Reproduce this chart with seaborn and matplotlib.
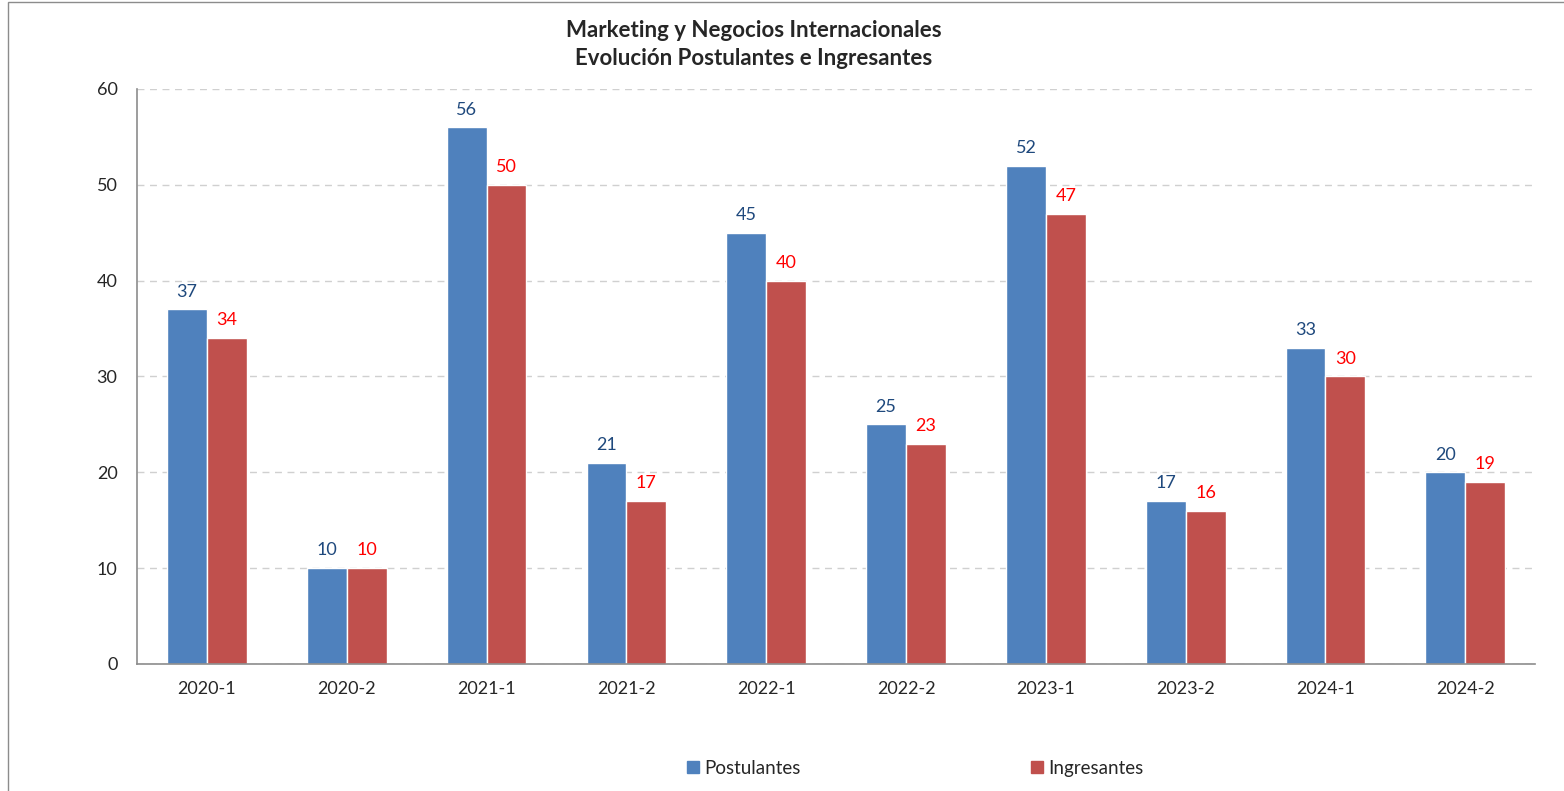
import matplotlib
matplotlib.use("Agg")
import matplotlib.pyplot as plt
import numpy as np
import pandas as pd
import seaborn as sns
from matplotlib.lines import Line2D
from matplotlib.patches import Rectangle

periodos = ["2020-1", "2020-2", "2021-1", "2021-2", "2022-1",
            "2022-2", "2023-1", "2023-2", "2024-1", "2024-2"]
postulantes = [37, 10, 56, 21, 45, 25, 52, 17, 33, 20]
ingresantes = [34, 10, 50, 17, 40, 23, 47, 16, 30, 19]
series = ["Postulantes", "Ingresantes"]

df = pd.DataFrame({
    "periodo": periodos * 2,
    "valor": postulantes + ingresantes,
    "serie": [series[0]] * len(periodos) + [series[1]] * len(periodos),
})

sns.set_style("white")
plt.rcParams["font.family"] = ["Lato", "DejaVu Sans"]

colores = {"Postulantes": "#4F81BD", "Ingresantes": "#C0504D"}
col_etq = {"Postulantes": "#1F497D", "Ingresantes": "#FF0000"}

fig = plt.figure(figsize=(15.64, 7.91), dpi=100)
ax = fig.add_axes([0.0876, 0.1606, 0.894, 0.727])

sns.barplot(data=df, x="periodo", y="valor", hue="serie", order=periodos,
            hue_order=series, palette=colores, saturation=1, width=0.57,
            dodge=True, edgecolor="white", linewidth=1, legend=False, ax=ax)

for cont, s in zip(ax.containers, series):
    ax.bar_label(cont, labels=[str(int(b.get_height())) for b in cont],
                 padding=7, color=col_etq[s], fontsize=13)

ax.set_ylim(0, 60)
ax.set_yticks(range(0, 61, 10))
ax.set_xlim(-0.5, len(periodos) - 0.5)
ax.set_xlabel("")
ax.set_ylabel("")
ax.yaxis.grid(True, linestyle=(0, (5, 4)), color="#D0D0D0", linewidth=1)
ax.set_axisbelow(True)

for s in ["top", "right"]:
    ax.spines[s].set_visible(False)
for s in ["left", "bottom"]:
    ax.spines[s].set_color("#8C8C8C")
    ax.spines[s].set_linewidth(1.2)

# ticks on category boundaries for x
ax.set_xticks(np.arange(len(periodos)))
ax.set_xticklabels(periodos)
ax.set_xticks(np.arange(-0.5, len(periodos)), minor=True)
ax.tick_params(axis="x", which="major", length=0, labelsize=13, pad=12)
ax.tick_params(axis="x", which="minor", length=6, color="#8C8C8C", width=1.2)
ax.tick_params(axis="y", length=6, color="#8C8C8C", width=1.2, labelsize=13, pad=8)

fig.suptitle("Marketing y Negocios Internacionales\nEvolución Postulantes e Ingresantes",
             x=0.482, y=0.975, fontsize=16, fontweight="bold", linespacing=1.45)

handles = [Line2D([], [], marker="s", linestyle="", markersize=9,
                  markerfacecolor=colores[s], markeredgecolor=colores[s]) for s in series]
fig.legend(handles, series, loc="center", bbox_to_anchor=(0.584, 0.029), ncol=2,
           frameon=False, fontsize=13.5, columnspacing=12.1, handletextpad=0.1,
           handlelength=1)

fig.patches.append(Rectangle((0.005, -0.01), 1.2, 1.0075, transform=fig.transFigure,
                             fill=False, edgecolor="#8C8C8C", linewidth=1))

fig.savefig("out.png", dpi=100)
